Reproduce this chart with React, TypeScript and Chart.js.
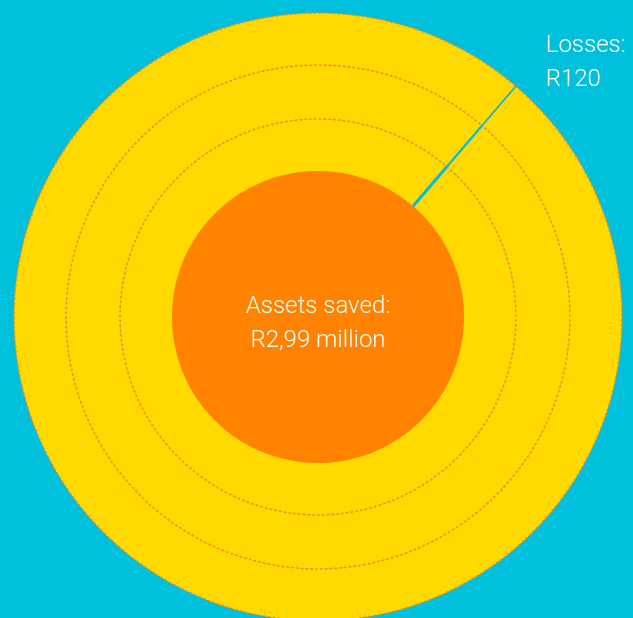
import React, { useEffect, useRef } from 'react';
import { Chart, registerables } from 'chart.js';

Chart.register(...registerables);

// ---- data ----
const categories = ['Assets saved', 'Losses'];
const assetsSaved = 2990000;
const losses = 120;
const ringValues = [assetsSaved, losses];
const coreValues = [assetsSaved, 0];
const assetsText = ['Assets saved:', 'R2,99 million'];
const lossesText = ['Losses:', 'R120'];

// ---- styles ----
const BG = '#00c0dc';
const YELLOW = '#ffd900';
const ORANGE = '#ff8200';
const DOT = '#f7861a';
const FONT = '300 24px Roboto, "Liberation Sans", sans-serif';

const ring = (dotted: boolean, lossWidth: number, weight: number, order: number) => ({
  label: 'ring',
  data: ringValues,
  backgroundColor: [YELLOW, BG],
  borderColor: (c: any) => (c.dataIndex === 0 ? DOT : BG),
  borderWidth: (c: any) => (c.dataIndex === 0 ? (dotted ? 1.6 : 0) : lossWidth),
  hoverBorderWidth: 0,
  borderAlign: 'center',
  borderDash: (c: any) => (c.dataIndex === 0 ? [2.2, 2.6] : []),
  weight,
  order,
});

const labelPlugin = {
  id: 'textLabels',
  afterDatasetsDraw(chart: any) {
    const ctx = chart.ctx;
    const core = chart.getDatasetMeta(3).data[0];
    const lossArc = chart.getDatasetMeta(0).data[1];
    ctx.save();
    ctx.fillStyle = '#ffffff';
    ctx.font = FONT;
    ctx.textBaseline = 'alphabetic';
    ctx.textAlign = 'center';
    ctx.fillText(assetsText[0], core.x, core.y - 4);
    ctx.fillText(assetsText[1], core.x, core.y + 30);
    const a = lossArc.startAngle;
    const px = lossArc.x + Math.cos(a) * lossArc.outerRadius;
    const py = lossArc.y + Math.sin(a) * lossArc.outerRadius;
    ctx.textAlign = 'left';
    ctx.fillText(lossesText[0], px + 30, py - 34);
    ctx.fillText(lossesText[1], px + 30, py);
    ctx.restore();
  },
};

export default function App() {
  const ref = useRef<HTMLCanvasElement | null>(null);
  useEffect(() => {
    if (!ref.current) return;
    const chart = new Chart(ref.current, {
      type: 'doughnut',
      data: {
        labels: categories,
        datasets: [
          ring(true, 1.5, 52, 0) as any,
          ring(false, 2.2, 54, 3) as any,
          ring(true, 3, 53, 2) as any,
          {
            label: 'core',
            data: coreValues,
            backgroundColor: [ORANGE, ORANGE],
            borderColor: ORANGE,
            borderWidth: 2.2,
            hoverBorderWidth: 0,
            weight: 145,
            order: 1,
          } as any,
        ],
      },
      options: {
        animation: false,
        responsive: true,
        maintainAspectRatio: false,
        cutout: 0,
        rotation: 40.6,
        circumference: 360,
        layout: { padding: { left: 13.25, right: 10.25, top: 12.25, bottom: 18.25 } },
        plugins: {
          legend: { display: false },
          tooltip: { enabled: false },
        },
        events: [],
      } as any,
      plugins: [labelPlugin],
    });
    return () => chart.destroy();
  }, []);
  return (
    <div
      style={{
        position: 'fixed',
        left: 0,
        top: 0,
        width: 633,
        height: 640,
        background: BG,
      }}
    >
      <canvas ref={ref} />
    </div>
  );
}
